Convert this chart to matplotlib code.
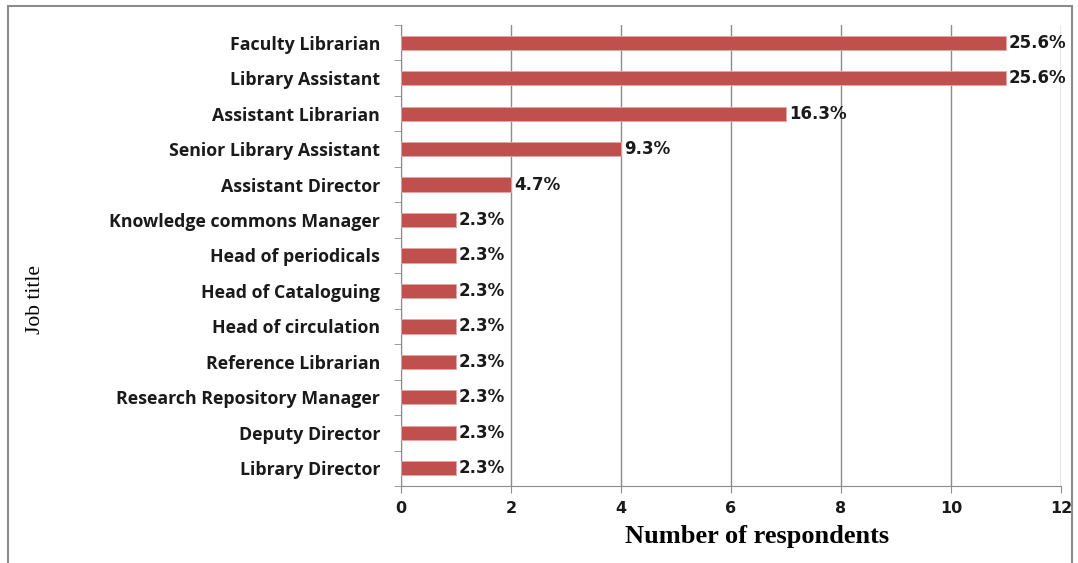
import matplotlib.pyplot as plt
from matplotlib.patches import Rectangle

# Respondents by job title
job_titles = [
    "Faculty Librarian",
    "Library Assistant",
    "Assistant Librarian",
    "Senior Library Assistant",
    "Assistant Director",
    "Knowledge commons Manager",
    "Head of periodicals",
    "Head of Cataloguing",
    "Head of circulation",
    "Reference Librarian",
    "Research Repository Manager",
    "Deputy Director",
    "Library Director",
]
respondents = [11, 11, 7, 4, 2, 1, 1, 1, 1, 1, 1, 1, 1]
percent_labels = ["25.6%", "25.6%", "16.3%", "9.3%", "4.7%", "2.3%", "2.3%",
                  "2.3%", "2.3%", "2.3%", "2.3%", "2.3%", "2.3%"]

fig = plt.figure(figsize=(10.78, 5.63), dpi=100)
W, H = 1078, 563
ax = fig.add_axes([401 / W, 1 - 486 / H, 660 / W, 461 / H])

# outer frame of the chart area
fig.patches.append(Rectangle((8 / W, -0.05), 1064 / W, 1.05 - 6 / H,
                             transform=fig.transFigure, fill=False,
                             edgecolor="#8c8c8c", linewidth=1.5))

ypos = list(range(len(job_titles)))[::-1]
ax.barh(ypos, respondents, height=0.4, color="#C0504D",
        edgecolor="#E6A5A3", linewidth=0.6, zorder=3)

for y, v, lab in zip(ypos, respondents, percent_labels):
    ax.annotate(lab, (v, y), xytext=(2, 0), textcoords="offset points",
                va="center", ha="left", fontsize=12, fontweight="bold",
                family="DejaVu Sans", color="#1a1a1a", zorder=4)

ax.set_xlim(0, 12)
ax.set_ylim(-0.5, len(job_titles) - 0.5)
ax.set_xticks(range(0, 13, 2))
ax.set_yticks(ypos)
ax.set_yticklabels(job_titles, family="Open Sans", fontweight="bold",
                   fontsize=12.8, color="#1a1a1a")
ax.tick_params(axis="y", length=0, pad=15)
ax.set_yticks([y + 0.5 for y in range(-1, len(job_titles))], minor=True)
ax.tick_params(axis="y", which="minor", length=5, color="#8c8c8c")
ax.tick_params(axis="x", length=5, color="#8c8c8c", pad=6)
for t in ax.get_xticklabels():
    t.set_family("DejaVu Sans")
    t.set_fontweight("bold")
    t.set_fontsize(11.5)
    t.set_color("#1a1a1a")

ax.grid(axis="x", color="#8c8c8c", linewidth=1, zorder=0)
ax.set_axisbelow(True)
for s in ["top", "right"]:
    ax.spines[s].set_visible(False)
for s in ["left", "bottom"]:
    ax.spines[s].set_color("#8c8c8c")

ax.set_xlabel("Number of respondents", family="Liberation Serif",
              fontweight="bold", fontsize=19, labelpad=6)
ax.xaxis.set_label_coords((757 - 401) / 660, -0.085)
fig.text(35 / W, 1 - 300 / H, "Job title", rotation=90, va="center",
         ha="center", family="Liberation Serif", fontsize=15.5)

fig.savefig("out.png", dpi=100)
